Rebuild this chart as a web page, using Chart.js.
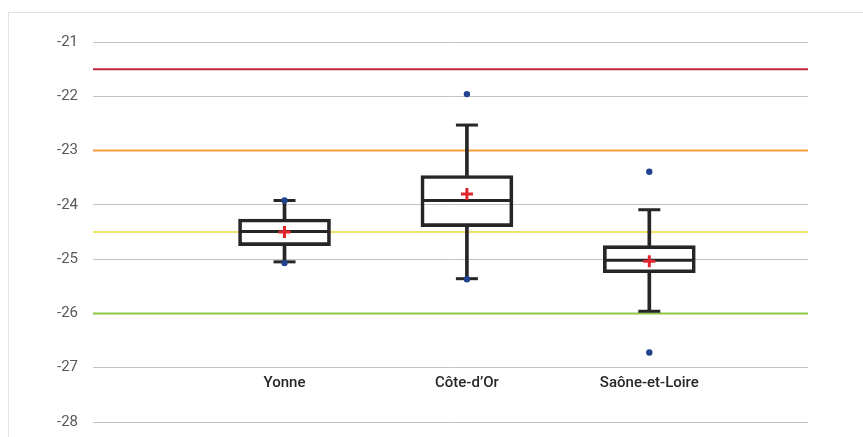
<!DOCTYPE html>
<html>
<head>
<meta charset="utf-8">
<script src="https://cdn.jsdelivr.net/npm/chart.js@4.4.0/dist/chart.umd.min.js"></script>
<style>
    html, body { margin: 0; padding: 0; background: #fff; }
    #wrap { position: relative; width: 863px; height: 437px; }
    #frame { position: absolute; left: 8px; top: 12px; right: 0; bottom: 0;
             border-left: 1px solid #e2e2e2; border-top: 1px solid #e2e2e2; }
    canvas { position: absolute; left: 0; top: 0; }
</style>
</head>
<body>
<div id="wrap">
    <div id="frame"></div>
    <canvas id="boxChart" width="863" height="437"></canvas>
</div>
<script>
const CATEGORIES = ['Yonne', 'Côte-d’Or', 'Saône-et-Loire'];
const POSITIONS = [1, 2, 3];

// Box plot stats
const WHISKER_LOW = [-25.05, -25.36, -25.96];
const Q1 = [-24.75, -24.40, -25.25];
const MEDIAN = [-24.49, -23.92, -25.02];
const Q3 = [-24.26, -23.46, -24.75];
const WHISKER_HIGH = [-23.92, -22.53, -24.09];
const MEAN = [-24.50, -23.80, -25.04];
const OUTLIERS = [[-23.92, -25.07], [-21.96, -25.37], [-23.39, -26.72]];

// Horizontal threshold lines
const THRESHOLDS = [-21.5, -23, -24.5, -26];
const THRESHOLD_COLORS = ['#c4243a', '#f6a042', '#efe36a', '#8dc646'];

const X_MIN = -0.05;
const X_MAX = 3.87;

const INK = '#262626';

const boxes = POSITIONS.map((x, i) => ({ x: x, y: [Q1[i], Q3[i]] }));
const upper = POSITIONS.map((x, i) => ({ x: x, y: [Q3[i], WHISKER_HIGH[i]] }));
const lower = POSITIONS.map((x, i) => ({ x: x, y: [WHISKER_LOW[i], Q1[i]] }));
const caps = [];
POSITIONS.forEach((x, i) => {
    caps.push({ x: x, y: WHISKER_LOW[i] });
    caps.push({ x: x, y: WHISKER_HIGH[i] });
});
const medians = POSITIONS.map((x, i) => ({ x: x, y: MEDIAN[i] }));
const means = POSITIONS.map((x, i) => ({ x: x, y: MEAN[i] }));
const outlierPts = [];
POSITIONS.forEach((x, i) => {
    OUTLIERS[i].forEach(v => outlierPts.push({ x: x, y: v }));
});

const thresholdSets = THRESHOLDS.map((v, i) => ({
    type: 'line',
    data: [{ x: X_MIN, y: v }, { x: X_MAX, y: v }],
    borderColor: THRESHOLD_COLORS[i],
    borderWidth: 2,
    pointRadius: 0,
    fill: false
}));

const ctx = document.getElementById('boxChart').getContext('2d');

new Chart(ctx, {
    type: 'bar',
    data: {
        datasets: [
            {
                type: 'scatter',
                data: means,
                pointStyle: 'cross',
                pointRadius: 6,
                borderColor: '#e0252f',
                borderWidth: 3
            },
            {
                type: 'scatter',
                data: outlierPts,
                pointStyle: 'circle',
                pointRadius: 3.2,
                backgroundColor: '#22428f',
                borderColor: '#22428f',
                borderWidth: 0
            },
            {
                type: 'scatter',
                data: medians,
                pointStyle: 'line',
                pointRadius: 45,
                borderColor: INK,
                borderWidth: 3
            },
            {
                type: 'scatter',
                data: caps,
                pointStyle: 'line',
                pointRadius: 11,
                borderColor: INK,
                borderWidth: 3
            },
            {
                data: boxes,
                backgroundColor: 'transparent',
                borderColor: INK,
                borderWidth: 3,
                borderSkipped: false,
                barThickness: 92,
                grouped: false
            },
            {
                data: upper,
                backgroundColor: INK,
                barThickness: 3,
                grouped: false
            },
            {
                data: lower,
                backgroundColor: INK,
                barThickness: 3,
                grouped: false
            },
            ...thresholdSets
        ]
    },
    options: {
        responsive: false,
        animation: false,
        layout: {
            autoPadding: false,
            padding: { left: 0, right: 55, top: 42, bottom: 15 }
        },
        plugins: {
            legend: { display: false },
            tooltip: { enabled: false }
        },
        scales: {
            x: {
                type: 'linear',
                offset: false,
                min: X_MIN,
                max: X_MAX,
                position: { y: -27 },
                afterBuildTicks: axis => {
                    axis.ticks = POSITIONS.map(v => ({ value: v }));
                },
                grid: { display: false, drawTicks: false },
                border: { display: false },
                ticks: {
                    padding: 7,
                    color: INK,
                    font: { family: 'Roboto', size: 15, weight: '500' },
                    callback: value => CATEGORIES[POSITIONS.indexOf(value)] || ''
                }
            },
            y: {
                min: -28,
                max: -21,
                afterFit: scale => {
                    scale.width = 93;
                    scale.paddingTop = 0;
                    scale.paddingBottom = 0;
                },
                grid: {
                    color: '#c3c3c3',
                    lineWidth: 1,
                    drawTicks: false
                },
                border: { display: false },
                ticks: {
                    stepSize: 1,
                    padding: 15,
                    color: '#595959',
                    font: { family: 'Roboto', size: 15 }
                }
            }
        }
    }
});
</script>
</body>
</html>
